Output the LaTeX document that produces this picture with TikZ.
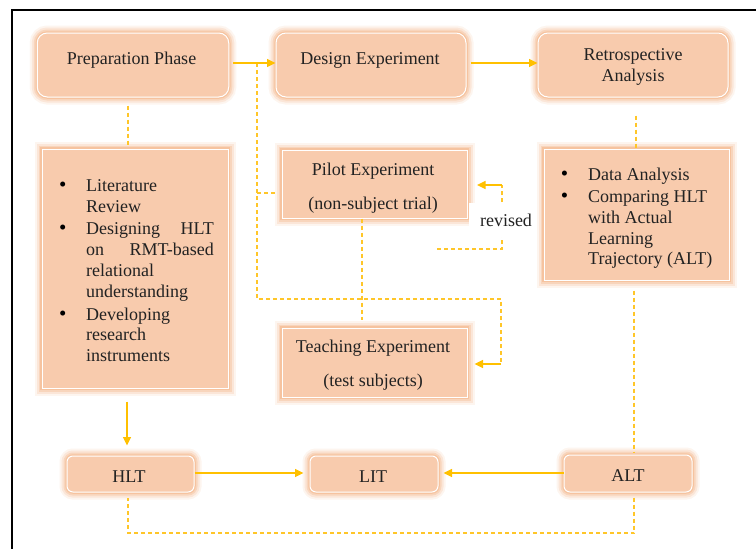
\documentclass[tikz,border=0pt]{standalone}
\usepackage{fontspec}
\setmainfont{Liberation Serif}
\usetikzlibrary{arrows.meta,calc}

\definecolor{peach}{HTML}{F8CBAD}
\definecolor{glowc}{HTML}{F4AE7C}
\definecolor{gold}{HTML}{FFC000}
\definecolor{dashgold}{HTML}{FFC629}
\definecolor{ink}{HTML}{222222}

\tikzset{
  glowbox/.style={
    preaction={draw=glowc, draw opacity=0.12, line width=15pt},
    preaction={draw=glowc, draw opacity=0.2, line width=11pt},
    preaction={draw=glowc, draw opacity=0.3, line width=7pt},
    preaction={draw=glowc, draw opacity=0.45, line width=3.5pt},
    fill=peach, draw=white, line width=1pt, inner sep=0pt},
  roundbox/.style={glowbox, rounded corners=10pt},
  smallbox/.style={glowbox, rounded corners=6pt},
  txt/.style={font=\fontsize{18}{21}\selectfont, text=ink, inner sep=0pt},
  bul/.style={font=\fontsize{21}{21}\selectfont, text=black, inner sep=0pt, anchor=base},
  goldarrow/.style={draw=gold, line width=1.5pt,
    -{Triangle[length=8.5pt,width=8pt]}},
  dashline/.style={draw=dashgold, line width=1.3pt, dash pattern=on 4pt off 3pt}
}

\begin{document}
\begin{tikzpicture}[x=1pt,y=-1pt]
\clip (0,0) rectangle (756,549);
\fill[white] (0,0) rectangle (756,549);

% outer frame
\draw[line width=2pt] (12.2,560) -- (12.2,9.8) -- (770,9.8);

% ---- top row ----
\node[roundbox, minimum width=191.5pt, minimum height=64pt] (prep) at (133,65) {};
\node[txt, anchor=base] (prepT) at (131.5,64.7) {Preparation Phase};

\node[roundbox, minimum width=190pt, minimum height=64pt] (design) at (371,65) {};
\node[txt, anchor=base] (designT) at (370,64.7) {Design Experiment};

\node[roundbox, minimum width=190pt, minimum height=64pt] (retro) at (633,65) {};
\node[txt, anchor=base] (retroT1) at (633,60.3) {Retrospective};
\node[txt, anchor=base] (retroT2) at (633,81.5) {Analysis};

% ---- connectors behind the middle boxes ----
\coordinate (j1) at (257,63);
\coordinate (j2) at (257,299);
\coordinate (j3) at (501,299);
\coordinate (j4) at (501,364);
\draw[dashline] (j1) -- (j2) -- (j3) -- (j4);
\draw[dashline, shorten >=5pt] (j1 |- 0,193) -- (282,193);

\coordinate (r0) at (437,249);
\coordinate (r1) at (502,249);
\coordinate (r2) at (502,185);
\draw[dashline] (r0) -- (r1) -- (r2);

\draw[goldarrow, shorten <=4pt] (prep.east |- 0,63) -- (design.west |- 0,63);
\draw[goldarrow, shorten <=4pt] (design.east |- 0,63) -- (retro.west |- 0,63);

% ---- left list ----
\node[glowbox, minimum width=186pt, minimum height=239pt] (listL) at (135,268.5) {};
\node[bul] (lb1) at (62.7,191.5) {\textbullet};
\node[txt, anchor=base west] (l1) at (86,191.5) {Literature};
\node[txt, anchor=base west] (l2) at (86,212) {Review};
\node[bul] (lb2) at (62.7,234) {\textbullet};
\node[txt, anchor=base west] (l3) at (86,234) {\makebox[127.7pt][s]{Designing HLT}};
\node[txt, anchor=base west] (l4) at (86,255) {\makebox[127.7pt][s]{on RMT-based}};
\node[txt, anchor=base west] (l5) at (86,276.5) {relational};
\node[txt, anchor=base west] (l6) at (86,297) {understanding};
\node[bul] (lb3) at (62.7,320) {\textbullet};
\node[txt, anchor=base west] (l7) at (86,320) {Developing};
\node[txt, anchor=base west] (l8) at (86,340.5) {research};
\node[txt, anchor=base west] (l9) at (86,361) {instruments};

% ---- middle column ----
\node[glowbox, minimum width=185pt, minimum height=68pt] (pilot) at (374.5,184) {};
\node[txt, anchor=base] (pilotT1) at (373,175) {Pilot Experiment};
\node[txt, anchor=base] (pilotT2) at (373,209) {(non-subject trial)};

\node[glowbox, minimum width=185pt, minimum height=69pt] (teach) at (374.5,362.5) {};
\node[txt, anchor=base] (teachT1) at (373,352) {Teaching Experiment};
\node[txt, anchor=base] (teachT2) at (373,386) {(test subjects)};

\draw[dashline, shorten >=8pt] (pilot.south -| 362,0) -- (teach.north -| 362,0);
\draw[goldarrow] (j4) -- ([xshift=7pt]teach.east |- j4);
\draw[goldarrow] (r2) -- ([xshift=9.5pt]pilot.east |- r2);

\node[txt, fill=white, minimum width=74pt, minimum height=34pt] (rev) at (506,220) {revised};

% ---- right list ----
\node[glowbox, minimum width=185pt, minimum height=131pt] (data) at (636.5,214.5) {};
\node[bul] (db1) at (564.5,180) {\textbullet};
\node[txt, anchor=base west] (d1) at (588,180) {Data Analysis};
\node[bul] (db2) at (564.5,202) {\textbullet};
\node[txt, anchor=base west] (d2) at (588,202) {Comparing HLT};
\node[txt, anchor=base west] (d3) at (588,223) {with Actual};
\node[txt, anchor=base west] (d4) at (588,244) {Learning};
\node[txt, anchor=base west] (d5) at (588,264.5) {Trajectory (ALT)};

\draw[dashline, shorten <=18pt] (retro.south -| 636,0) -- (data.north -| 636,0);
\draw[dashline, shorten <=8pt, shorten >=4pt] (prep.south -| 128,0) -- (listL.north -| 128,0);

% ---- bottom row ----
\node[smallbox, minimum width=127pt, minimum height=36pt] (hlt) at (130.5,474) {};
\node[txt, anchor=base] (hltT) at (129,482) {HLT};
\node[smallbox, minimum width=128pt, minimum height=36pt] (lit) at (374,474) {};
\node[txt, anchor=base] (litT) at (373,482) {LIT};
\node[smallbox, minimum width=128pt, minimum height=37pt] (alt) at (628,473.5) {};
\node[txt, anchor=base] (altT) at (628,481.7) {ALT};

\draw[goldarrow, shorten <=13pt, shorten >=10pt] (listL.south -| 127,0) -- (hlt.north -| 127,0);
\draw[goldarrow, shorten >=6pt] (hlt.east |- 0,473) -- (lit.west |- 0,473);
\draw[goldarrow, shorten >=5pt] (alt.west |- 0,473) -- (lit.east |- 0,473);

\draw[dashline, shorten <=10pt, shorten >=2pt] (data.south -| 634,0) -- (alt.north -| 634,0);
\draw[dashline, shorten <=5pt, shorten >=5pt]
  (alt.south -| 634,0) -- (634,533) -- (128,533) -- (hlt.south -| 128,0);
\end{tikzpicture}
\end{document}
